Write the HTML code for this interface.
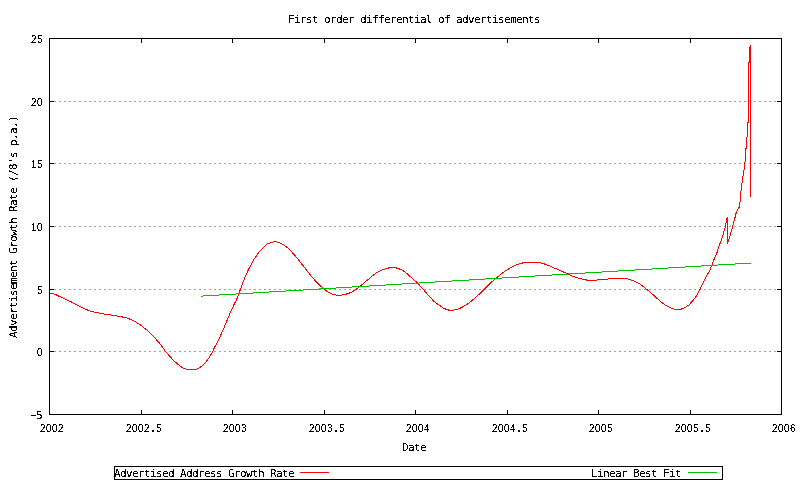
<!DOCTYPE html>
<html lang="en"><head><meta charset="utf-8"><title>First order differential of advertisements</title>
<style>
html,body{margin:0;padding:0;background:#fff;}
body{width:800px;height:480px;overflow:hidden;}
svg{display:block;}
text{fill:#000;white-space:pre;}
.m{font-family:"DejaVu Sans Mono","Liberation Mono",monospace;font-size:11px;}
.n{font-family:"Liberation Sans","DejaVu Sans",sans-serif;font-size:10px;}
.ax{stroke:#000;stroke-width:1;fill:none;shape-rendering:crispEdges;}
.grid{stroke:#a0a0a0;stroke-width:1;stroke-dasharray:2 3;fill:none;shape-rendering:crispEdges;}
.red{stroke:#ff0000;stroke-width:1;fill:none;shape-rendering:crispEdges;}
.grn{stroke:#00c000;stroke-width:1;fill:none;shape-rendering:crispEdges;}
</style></head><body>
<svg width="800" height="480" viewBox="0 0 800 480">
<rect x="0" y="0" width="800" height="480" fill="#ffffff"/>
<line class="grid" x1="49" y1="101.5" x2="781" y2="101.5"/>
<line class="grid" x1="49" y1="163.5" x2="781" y2="163.5"/>
<line class="grid" x1="49" y1="226.5" x2="781" y2="226.5"/>
<line class="grid" x1="49" y1="289.5" x2="781" y2="289.5"/>
<line class="grid" x1="49" y1="351.5" x2="781" y2="351.5"/>
<rect class="ax" x="49.5" y="38.5" width="732" height="376"/>
<line class="ax" x1="49" y1="38.5" x2="54" y2="38.5"/>
<line class="ax" x1="777" y1="38.5" x2="782" y2="38.5"/>
<line class="ax" x1="49" y1="101.5" x2="54" y2="101.5"/>
<line class="ax" x1="777" y1="101.5" x2="782" y2="101.5"/>
<line class="ax" x1="49" y1="163.5" x2="54" y2="163.5"/>
<line class="ax" x1="777" y1="163.5" x2="782" y2="163.5"/>
<line class="ax" x1="49" y1="226.5" x2="54" y2="226.5"/>
<line class="ax" x1="777" y1="226.5" x2="782" y2="226.5"/>
<line class="ax" x1="49" y1="289.5" x2="54" y2="289.5"/>
<line class="ax" x1="777" y1="289.5" x2="782" y2="289.5"/>
<line class="ax" x1="49" y1="351.5" x2="54" y2="351.5"/>
<line class="ax" x1="777" y1="351.5" x2="782" y2="351.5"/>
<line class="ax" x1="49" y1="414.5" x2="54" y2="414.5"/>
<line class="ax" x1="777" y1="414.5" x2="782" y2="414.5"/>
<line class="ax" x1="49.5" y1="410" x2="49.5" y2="415"/>
<line class="ax" x1="49.5" y1="38" x2="49.5" y2="43"/>
<line class="ax" x1="141.5" y1="410" x2="141.5" y2="415"/>
<line class="ax" x1="141.5" y1="38" x2="141.5" y2="43"/>
<line class="ax" x1="232.5" y1="410" x2="232.5" y2="415"/>
<line class="ax" x1="232.5" y1="38" x2="232.5" y2="43"/>
<line class="ax" x1="324.5" y1="410" x2="324.5" y2="415"/>
<line class="ax" x1="324.5" y1="38" x2="324.5" y2="43"/>
<line class="ax" x1="415.5" y1="410" x2="415.5" y2="415"/>
<line class="ax" x1="415.5" y1="38" x2="415.5" y2="43"/>
<line class="ax" x1="507.5" y1="410" x2="507.5" y2="415"/>
<line class="ax" x1="507.5" y1="38" x2="507.5" y2="43"/>
<line class="ax" x1="598.5" y1="410" x2="598.5" y2="415"/>
<line class="ax" x1="598.5" y1="38" x2="598.5" y2="43"/>
<line class="ax" x1="690.5" y1="410" x2="690.5" y2="415"/>
<line class="ax" x1="690.5" y1="38" x2="690.5" y2="43"/>
<line class="ax" x1="781.5" y1="410" x2="781.5" y2="415"/>
<line class="ax" x1="781.5" y1="38" x2="781.5" y2="43"/>
<polyline class="red" points="49.50,293.50 53.40,293.50 54.60,294.50 56.00,294.70 59.00,296.20 62.00,297.60 65.00,299.00 71.00,301.80 77.00,305.00 83.00,308.00 87.00,309.80 91.00,311.50 96.00,312.30 101.00,313.50 107.00,314.50 114.00,315.50 120.00,316.50 126.80,317.90 133.60,320.60 140.30,324.90 147.10,330.30 153.90,336.80 160.70,344.60 165.40,351.30 170.10,356.70 174.20,361.10 178.30,364.60 182.30,367.60 186.40,369.20 191.80,369.70 196.60,369.20 201.30,366.60 205.40,362.80 209.40,357.40 212.80,351.30 214.50,347.50 219.00,339.00 223.50,329.00 225.50,324.00 228.50,317.00 230.50,312.00 234.50,303.50 236.50,300.00 240.00,290.50 243.50,281.00 246.00,275.00 248.50,269.50 252.00,263.00 254.50,258.50 259.50,251.50 264.00,247.00 267.00,244.00 271.00,242.50 274.80,241.50 279.00,242.50 284.00,245.00 289.00,249.00 292.50,252.80 296.00,256.80 300.00,261.70 305.00,268.30 310.00,274.50 315.00,280.50 320.00,285.50 324.00,289.00 328.00,292.00 333.00,294.50 339.00,295.50 345.00,294.50 351.00,292.50 356.00,289.50 360.00,286.50 365.00,282.00 369.00,279.00 371.00,277.00 376.00,273.00 381.00,270.50 386.00,268.50 390.00,267.70 394.00,267.50 398.00,268.30 403.00,270.50 408.00,274.50 413.00,279.00 418.00,283.50 423.00,289.00 428.00,295.00 430.00,297.00 434.00,301.50 439.00,305.00 444.00,308.50 449.00,310.20 452.00,310.50 456.00,309.70 461.00,307.80 466.00,305.00 471.00,301.50 476.00,297.00 481.00,292.50 485.00,288.50 490.00,283.50 495.00,279.00 500.00,275.00 505.00,271.20 510.00,268.00 515.00,265.50 520.00,263.50 525.00,262.50 532.00,262.40 538.50,262.50 543.00,263.50 548.00,265.20 553.00,267.50 558.00,269.50 563.00,271.80 568.00,274.00 573.00,276.30 576.00,277.50 579.50,278.50 584.50,279.50 588.00,280.40 592.50,280.50 596.00,280.40 597.50,279.60 602.00,279.50 607.00,279.40 608.50,278.60 617.50,278.50 627.00,278.60 629.00,279.50 633.00,280.50 636.00,282.00 639.00,283.50 642.00,285.50 645.00,288.00 650.00,292.00 655.00,296.50 660.00,301.00 665.00,304.80 670.00,307.50 674.50,309.20 678.00,309.50 681.00,309.20 685.00,307.50 689.00,304.80 693.00,300.50 697.00,295.00 700.00,289.50 703.00,283.00 706.00,277.00 709.00,272.00 712.20,264.50 714.70,257.70 717.00,252.50 719.20,245.70 721.80,239.00 723.70,232.20 725.20,227.00 726.30,221.00 727.40,217.20 727.50,243.50 728.75,240.00 730.60,233.75 732.50,226.90 734.40,220.00 736.25,212.50 738.10,208.75 739.75,206.25 740.40,195.40 741.50,187.00 742.90,176.70 744.20,168.30 745.20,160.00 745.60,151.70 746.70,143.30 747.30,130.80 747.50,123.00 748.50,121.80 748.50,110.00 748.50,63.00 749.50,62.00 749.50,48.00 750.50,47.00 750.50,45.00 750.50,196.50"/>
<polyline class="grn" points="200.5,296.15 751,263.03"/>
<rect class="ax" x="114.5" y="466.5" width="608" height="13"/>
<line class="red" x1="300" y1="472.5" x2="329" y2="472.5"/>
<line class="grn" x1="688" y1="472.5" x2="717" y2="472.5"/>
<defs><filter id="bw" x="0" y="0" width="800" height="480" filterUnits="userSpaceOnUse" color-interpolation-filters="sRGB"><feComponentTransfer><feFuncA type="discrete" tableValues="0 0 0 0 0 0 0 0 0 1 1 1 1 1 1 1 1 1 1 1"/></feComponentTransfer></filter></defs>
<g filter="url(#bw)">
<text class="n" transform="translate(31,43) scale(1,1.1)" x="0 6">25</text>
<text class="n" transform="translate(31,106) scale(1,1.1)" x="0 6">20</text>
<text class="n" transform="translate(31,168) scale(1,1.1)" x="0 6">15</text>
<text class="n" transform="translate(31,231) scale(1,1.1)" x="0 6">10</text>
<text class="n" transform="translate(37,294) scale(1,1.1)" x="0">5</text>
<text class="n" transform="translate(37,356) scale(1,1.1)" x="0">0</text>
<text class="m" transform="translate(30,419)"><tspan x="-2.4" dy="-1" textLength="11.8" lengthAdjust="spacingAndGlyphs">-</tspan><tspan x="6" dy="1">5</tspan></text>
<text class="n" transform="translate(40,432) scale(1,1.1)" x="0 6 12 18">2002</text>
<text class="n" transform="translate(126,432) scale(1,1.1)" x="0 6 12 18 23.75 30">2002<tspan class="m">.</tspan>5</text>
<text class="n" transform="translate(223,432) scale(1,1.1)" x="0 6 12 18">2003</text>
<text class="n" transform="translate(309,432) scale(1,1.1)" x="0 6 12 18 23.75 30">2003<tspan class="m">.</tspan>5</text>
<text class="n" transform="translate(406,432) scale(1,1.1)" x="0 6 12 18">2004</text>
<text class="n" transform="translate(492,432) scale(1,1.1)" x="0 6 12 18 23.75 30">2004<tspan class="m">.</tspan>5</text>
<text class="n" transform="translate(589,432) scale(1,1.1)" x="0 6 12 18">2005</text>
<text class="n" transform="translate(675,432) scale(1,1.1)" x="0 6 12 18 23.75 30">2005<tspan class="m">.</tspan>5</text>
<text class="n" transform="translate(772,432) scale(1,1.1)" x="0 6 12 18">2006</text>
<text class="m" transform="translate(288,23)" x="0 6 12 18 24 30 36 42 48 54 60 66 72 78 84 90 96 102 108 114 120 126 132 138 144 150 156 162 168 174 180 186 192 198 204 210 216 222 228 234 240 246">First order differential of advertisements</text>
<text class="m" transform="translate(402,451)" x="0 6 12 18">Date</text>
<text class="m" transform="translate(17,338) rotate(-90)" x="0 6 12 18 24 30 36 42 48 54 60 66 72 78 84 90 96 102 108 114 120 126 132 138 144 150 156 162 168 174 180 186 192 198 204 210 216">Advertisement Growth Rate (/8's p.a.)</text>
<text class="m" transform="translate(114,477)" x="0 6 12 18 24 30 36 42 48 54 60 66 72 78 84 90 96 102 108 114 120 126 132 138 144 150 156 162 168 174">Advertised Address Growth Rate</text>
<text class="m" transform="translate(591,477)" x="0 6 12 18 24 30 36 42 48 54 60 66 72 78 84">Linear Best Fit</text>
</g>
</svg>
</body></html>
